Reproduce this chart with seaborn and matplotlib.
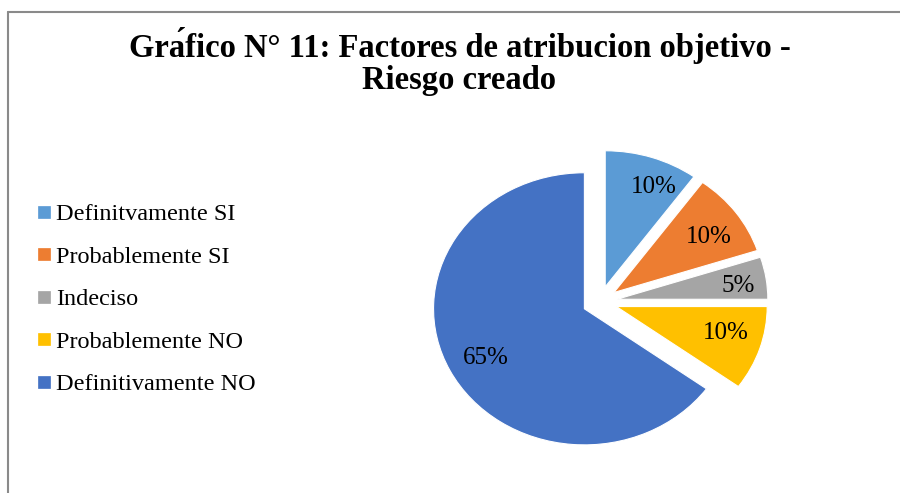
import numpy as np
import matplotlib
matplotlib.use("Agg")
import matplotlib.pyplot as plt
import seaborn as sns
from matplotlib.lines import Line2D

categorias = ["Definitvamente SI", "Probablemente SI", "Indeciso",
              "Probablemente NO", "Definitivamente NO"]
porcentajes = [10, 10, 5, 10, 65]
colores = ["#5B9BD5", "#ED7D31", "#A5A5A5", "#FFC000", "#4472C4"]

# el acento va como marca combinante, igual que en el original
titulo_1 = "Gra\u0301fico N° 11: Factores de atribucion objetivo -"
titulo_2 = "Riesgo creado"


def setup_style():
    sns.set_theme(style="white")
    plt.rcParams['font.family'] = ['Liberation Serif', 'DejaVu Serif']
    plt.rcParams['text.color'] = 'black'


def plot_pie():
    setup_style()
    fig = plt.figure(figsize=(9, 4.93), dpi=100)
    ax = fig.add_axes([0.457, 0.043, 0.419, 0.690])

    wedges, texts, autotexts = ax.pie(
        porcentajes, colors=colores, startangle=90, counterclock=False,
        explode=[0.115] * len(porcentajes),
        autopct=lambda p: f"{p:.0f}%", pctdistance=0.77,
        wedgeprops=dict(edgecolor="white", linewidth=0.8),
        textprops=dict(fontsize=18, color="black"))
    ax.set_aspect('auto')
    ax.set_xlim(-1.25, 1.25)
    ax.set_ylim(-1.25, 1.25)

    # pequeño ajuste de las etiquetas (como las pone Excel)
    ajustes = [-6, -3, -2, 3, 2]
    distancias = [0.80, 0.75, 0.81, 0.75, 0.75]
    for w, t, d, r in zip(wedges, autotexts, ajustes, distancias):
        cx, cy = w.center
        ang = np.deg2rad((w.theta1 + w.theta2) / 2 + d)
        t.set_position((cx + r * np.cos(ang), cy + r * np.sin(ang)))

    handles = [Line2D([], [], marker='s', linestyle='', markersize=9,
                      markerfacecolor=c, markeredgecolor=c, markeredgewidth=0.5)
               for c in colores]
    fig.legend(handles, categorias, loc='center left',
               bbox_to_anchor=(0.03, 0.393), frameon=False, fontsize=17.5,
               handlelength=0.6, handletextpad=0.2, labelspacing=0.84,
               borderaxespad=0, labelcolor='black')

    fig.text(0.511, 1 - 45 / 493, titulo_1, ha='center', va='center',
             fontsize=23.5, fontweight='bold', color='black')
    fig.text(0.51, 1 - 80 / 493, titulo_2, ha='center', va='center',
             fontsize=23.5, fontweight='bold', color='black')

    # borde del gráfico
    fig.add_artist(Line2D([0.009, 1.0], [0.976, 0.976], color="#8a8a8a",
                          linewidth=1.5, transform=fig.transFigure))
    fig.add_artist(Line2D([0.009, 0.009], [0.0, 0.976], color="#8a8a8a",
                          linewidth=1.5, transform=fig.transFigure))

    fig.savefig("out.png", dpi=100)


if __name__ == "__main__":
    plot_pie()
